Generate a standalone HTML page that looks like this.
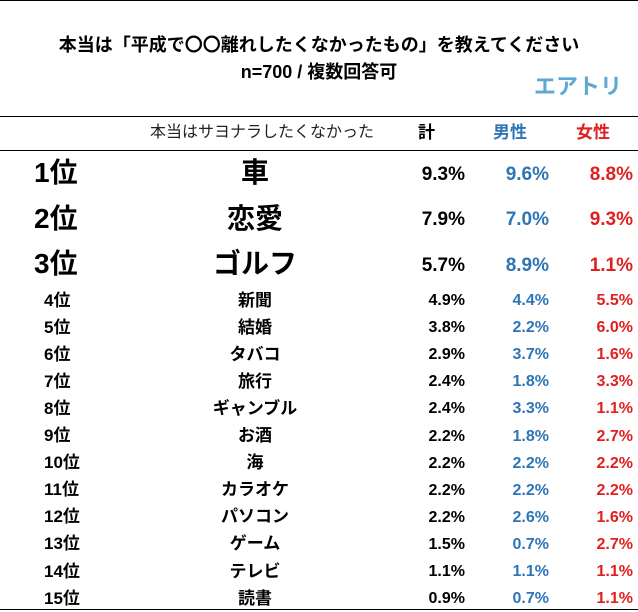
<!DOCTYPE html>
<html><head><meta charset="utf-8">
<style>
body{margin:0;width:638px;height:612px;background:#fff;position:relative;overflow:hidden;font-family:"Liberation Sans","Noto Sans CJK JP",sans-serif;}
.a{position:absolute;white-space:nowrap;font-weight:bold;line-height:1;}
.line{position:absolute;left:0;width:638px;height:1px;background:#000;}
</style></head><body>
<div class="line" style="top:0"></div>
<div class="a" style="left:0;width:638px;text-align:center;top:36px;font-size:18px;">本当は「平成で〇〇離れしたくなかったもの」を教えてください</div>
<div class="a" style="left:0;width:638px;text-align:center;top:63px;font-size:18px;">n=700 / 複数回答可</div>
<div class="a" style="left:534px;top:76px;font-size:22px;color:#5fa8d3;">エアトリ</div>
<div class="line" style="top:116px"></div>
<div class="a" style="left:150px;width:210px;text-align:center;top:125px;font-size:16px;font-weight:normal;color:#222;">本当はサヨナラしたくなかった</div>
<div class="a" style="left:418px;top:124px;font-size:17px;">計</div>
<div class="a" style="left:493px;top:124px;font-size:17px;color:#2e75b6;">男性</div>
<div class="a" style="left:576px;top:124px;font-size:17px;color:#e02020;">女性</div>
<div class="line" style="top:150px"></div>
<div class="line" style="top:609px"></div>
<script>
const ranks=["1位","2位","3位","4位","5位","6位","7位","8位","9位","10位","11位","12位","13位","14位","15位"];
const items=["車","恋愛","ゴルフ","新聞","結婚","タバコ","旅行","ギャンブル","お酒","海","カラオケ","パソコン","ゲーム","テレビ","読書"];
const total=[9.3,7.9,5.7,4.9,3.8,2.9,2.4,2.4,2.2,2.2,2.2,2.2,1.5,1.1,0.9];
const male=[9.6,7.0,8.9,4.4,2.2,3.7,1.8,3.3,1.8,2.2,2.2,2.6,0.7,1.1,0.7];
const female=[8.8,9.3,1.1,5.5,6.0,1.6,3.3,1.1,2.7,2.2,2.2,1.6,2.7,1.1,1.1];
function add(name,txt,style){
  const d=document.createElement('div');
  d.className='a';
  
  
  d.textContent=txt;
  d.style.cssText=style;
  document.body.appendChild(d);
}
for(let i=0;i<ranks.length;i++){
  const big=i<3;
  const cy=big?174+i*45.5:301+(i-3)*27.1;
  const fs=big?28:17, vf=big?19:16;
  add('rank-'+(i+1),ranks[i],`left:${big?34:44}px;top:${cy-fs/2-1}px;font-size:${fs}px;`);
  add('item-'+(i+1),items[i],`left:155px;width:200px;text-align:center;top:${cy-fs/2-1}px;font-size:${fs}px;`);
  add('total-'+(i+1),total[i].toFixed(1)+'%',`right:${638-465}px;top:${cy-vf/2}px;font-size:${vf}px;`);
  add('male-'+(i+1),male[i].toFixed(1)+'%',`right:${638-549}px;top:${cy-vf/2}px;font-size:${vf}px;color:#2e75b6;`);
  add('female-'+(i+1),female[i].toFixed(1)+'%',`right:${638-633}px;top:${cy-vf/2}px;font-size:${vf}px;color:#e02020;`);
}
</script>
</body></html>
